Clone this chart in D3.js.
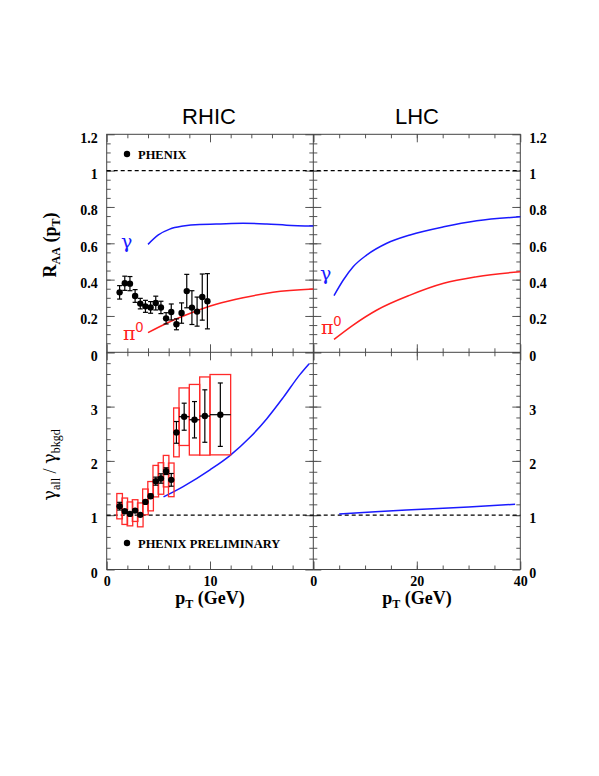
<!DOCTYPE html>
<html>
<head>
<meta charset="utf-8">
<script src="https://cdn.jsdelivr.net/npm/d3@7"></script>
<style>
  body { margin: 0; background: white; }
  .tick text { font-family: "Liberation Serif", serif; font-weight: bold; font-size: 14px; fill: #000; }
  .tick line { stroke: #555; }
</style>
</head>
<body>
<div id="container"></div>
<script>
// PHENIX R_AA points (RHIC, top left)
var rhicPt = [1.25, 1.75, 2.25, 2.75, 3.25, 3.75, 4.25, 4.75, 5.25, 5.75, 6.25, 6.75, 7.25, 7.75, 8.25, 8.75, 9.25, 9.75];
var rhicRaa = [0.330, 0.380, 0.378, 0.310, 0.268, 0.253, 0.247, 0.271, 0.247, 0.187, 0.222, 0.154, 0.216, 0.337, 0.246, 0.224, 0.304, 0.281];
var rhicRaaErr = [0.037, 0.039, 0.039, 0.035, 0.029, 0.033, 0.032, 0.038, 0.034, 0.031, 0.044, 0.030, 0.056, 0.092, 0.093, 0.080, 0.127, 0.152];

// model curves, R_AA
var rhicGammaPt = [4.0, 5.0, 6.1, 7.4, 9.0, 10.6, 13.2, 15.5, 17.4, 20];
var rhicGammaRaa = [0.594, 0.646, 0.678, 0.695, 0.704, 0.706, 0.710, 0.706, 0.700, 0.695];
var rhicPi0Pt = [4.0, 5.8, 8.1, 10.6, 13.2, 16.1, 20];
var rhicPi0Raa = [0.108, 0.160, 0.215, 0.264, 0.300, 0.330, 0.348];
var lhcGammaPt = [4.0, 5.8, 7.7, 10.3, 14.2, 18.7, 25.2, 31.6, 40];
var lhcGammaRaa = [0.312, 0.398, 0.471, 0.535, 0.600, 0.646, 0.691, 0.724, 0.746];
var lhcPi0Pt = [4.0, 7.7, 12.3, 18.7, 25.2, 31.6, 40];
var lhcPi0Raa = [0.071, 0.150, 0.233, 0.315, 0.380, 0.416, 0.444];

// PHENIX preliminary gamma_all / gamma_bkgd (bottom left)
var prelimPt = [1.25, 1.75, 2.25, 2.75, 3.25, 3.75, 4.25, 4.75, 5.25, 5.75, 6.25, 6.75, 7.5, 8.5, 9.5, 11];
var prelimRatio = [1.166, 1.073, 1.024, 1.085, 1.006, 1.245, 1.350, 1.627, 1.676, 1.811, 1.651, 2.525, 2.814, 2.758, 2.826, 2.851];
var prelimStat = [0.071, 0.03, 0.02, 0.03, 0.02, 0.03, 0.04, 0.074, 0.086, 0.062, 0.117, 0.20, 0.249, 0.335, 0.483, 0.584];
var prelimSys = [0.233, 0.243, 0.22, 0.20, 0.22, 0.237, 0.27, 0.29, 0.29, 0.29, 0.31, 0.45, 0.53, 0.65, 0.72, 0.74];
var prelimBinHalf = [0.27, 0.27, 0.27, 0.27, 0.27, 0.27, 0.27, 0.27, 0.27, 0.27, 0.27, 0.27, 0.5, 0.5, 0.5, 1.0];

// model curves, ratio
var rhicRatioPt = [5.5, 7.4, 10.0, 11.9, 13.9, 15.5, 17.1, 18.7, 19.6];
var rhicRatio = [1.338, 1.528, 1.836, 2.094, 2.439, 2.777, 3.17, 3.589, 3.79];
var lhcRatioPt = [5, 12, 20, 30, 39];
var lhcRatio = [1.024, 1.065, 1.105, 1.153, 1.202];

// tick labels
var raaLabels = [0, 0.2, 0.4, 0.6, 0.8, 1, 1.2];
var ratioLabels = [0, 1, 2, 3];
var rhicPtLabels = [0, 10];
var lhcPtLabels = [0, 20, 40];

var svgWidth = 599, svgHeight = 776;
var svg = d3.select('#container').append('svg')
  .attr('width', svgWidth).attr('height', svgHeight)
  .style('background-color', 'white');

var left = 106.7, mid = 313.3, right = 520.3;
var top0 = 134.3, midY = 352.3, bottom = 569.5;

var xL = d3.scaleLinear().domain([0, 20]).range([left, mid]);
var xR = d3.scaleLinear().domain([0, 40]).range([mid, right]);
var yT = d3.scaleLinear().domain([0, 1.2]).range([midY, top0]);
var yB = d3.scaleLinear().domain([0, 4]).range([bottom, midY]);

var fmt = function(d) { return String(+d.toFixed(1)); };

function noDomain(sel) { sel.select('.domain').remove(); }

// inward ticks on all four sides of a panel
function frameTicks(x, y, xMajor, xMinor, yMajor, yMinor) {
  var x0 = x.range()[0], x1 = x.range()[1], y0 = y.range()[0], y1 = y.range()[1];
  [[d3.axisBottom, y0], [d3.axisTop, y1]].forEach(function(a) {
    svg.append('g').attr('transform', 'translate(0,' + a[1] + ')')
      .call(a[0](x).tickValues(xMajor).tickSize(-8).tickFormat('')).call(noDomain);
    svg.append('g').attr('transform', 'translate(0,' + a[1] + ')')
      .call(a[0](x).tickValues(xMinor).tickSize(-4).tickFormat('')).call(noDomain);
  });
  [[d3.axisLeft, x0], [d3.axisRight, x1]].forEach(function(a) {
    svg.append('g').attr('transform', 'translate(' + a[1] + ',0)')
      .call(a[0](y).tickValues(yMajor).tickSize(-8).tickFormat('')).call(noDomain);
    svg.append('g').attr('transform', 'translate(' + a[1] + ',0)')
      .call(a[0](y).tickValues(yMinor).tickSize(-4).tickFormat('')).call(noDomain);
  });
}

frameTicks(xL, yT, [0, 10, 20], d3.range(2, 20, 2), [0, 0.2, 0.4, 0.6, 0.8, 1, 1.2], d3.range(0.05, 1.2, 0.05));
frameTicks(xR, yT, [0, 20, 40], d3.range(5, 40, 5), [0, 0.2, 0.4, 0.6, 0.8, 1, 1.2], d3.range(0.05, 1.2, 0.05));
frameTicks(xL, yB, [0, 10, 20], d3.range(2, 20, 2), [0, 1, 2, 3, 4], d3.range(0.2, 4, 0.2));
frameTicks(xR, yB, [0, 20, 40], d3.range(5, 40, 5), [0, 1, 2, 3, 4], d3.range(0.2, 4, 0.2));

// frames
svg.append('rect').attr('x', left).attr('y', top0).attr('width', right - left).attr('height', bottom - top0)
  .attr('fill', 'none').attr('stroke', '#444').attr('stroke-width', 1);
svg.append('line').attr('x1', mid).attr('x2', mid).attr('y1', top0).attr('y2', bottom).attr('stroke', '#444');
svg.append('line').attr('x1', left).attr('x2', right).attr('y1', midY).attr('y2', midY).attr('stroke', '#444');

// tick labels
svg.append('g').attr('transform', 'translate(' + left + ',0)')
  .call(d3.axisLeft(yT).tickValues(raaLabels).tickSize(0).tickPadding(9).tickFormat(fmt)).call(noDomain)
  .selectAll('text').attr('dy', '0.55em');
svg.append('g').attr('transform', 'translate(' + right + ',0)')
  .call(d3.axisRight(yT).tickValues(raaLabels).tickSize(0).tickPadding(9).tickFormat(fmt)).call(noDomain)
  .selectAll('text').attr('dy', '0.55em');
svg.append('g').attr('transform', 'translate(' + left + ',0)')
  .call(d3.axisLeft(yB).tickValues(ratioLabels).tickSize(0).tickPadding(9).tickFormat(fmt)).call(noDomain)
  .selectAll('text').attr('dy', '0.55em');
svg.append('g').attr('transform', 'translate(' + right + ',0)')
  .call(d3.axisRight(yB).tickValues(ratioLabels).tickSize(0).tickPadding(9).tickFormat(fmt)).call(noDomain)
  .selectAll('text').attr('dy', '0.55em');
svg.append('g').attr('transform', 'translate(0,' + bottom + ')')
  .call(d3.axisBottom(xL).tickValues(rhicPtLabels).tickSize(0).tickPadding(7).tickFormat(fmt)).call(noDomain);
svg.append('g').attr('transform', 'translate(0,' + bottom + ')')
  .call(d3.axisBottom(xR).tickValues(lhcPtLabels).tickSize(0).tickPadding(7).tickFormat(fmt)).call(noDomain);

// dashed unity lines
[[yT, 1], [yB, 1]].forEach(function(a) {
  svg.append('line').attr('x1', left).attr('x2', right)
    .attr('y1', a[0](a[1])).attr('y2', a[0](a[1]))
    .attr('stroke', '#000').attr('stroke-width', 1.2).attr('stroke-dasharray', '4,3');
});

function curve(x, y, xs, ys, color) {
  var line = d3.line().curve(d3.curveMonotoneX)
    .x(function(d, i) { return x(xs[i]); })
    .y(function(d) { return y(d); });
  svg.append('path').datum(ys)
    .attr('fill', 'none').attr('stroke', color).attr('stroke-width', 1.5)
    .attr('d', line);
}

curve(xL, yT, rhicGammaPt, rhicGammaRaa, '#1a1aff');
curve(xL, yT, rhicPi0Pt, rhicPi0Raa, '#ff2020');
curve(xR, yT, lhcGammaPt, lhcGammaRaa, '#1a1aff');
curve(xR, yT, lhcPi0Pt, lhcPi0Raa, '#ff2020');
curve(xL, yB, rhicRatioPt, rhicRatio, '#1a1aff');
curve(xR, yB, lhcRatioPt, lhcRatio, '#1a1aff');

// systematic boxes
prelimPt.forEach(function(p, i) {
  svg.append('rect')
    .attr('x', xL(p - prelimBinHalf[i])).attr('width', xL(p + prelimBinHalf[i]) - xL(p - prelimBinHalf[i]))
    .attr('y', yB(prelimRatio[i] + prelimSys[i])).attr('height', yB(prelimRatio[i] - prelimSys[i]) - yB(prelimRatio[i] + prelimSys[i]))
    .attr('fill', 'none').attr('stroke', '#ff2a2a').attr('stroke-width', 1.3);
});

function points(x, y, xs, ys, errs, xhalf) {
  var g = svg.append('g').attr('stroke', '#000').attr('stroke-width', 1.2);
  xs.forEach(function(p, i) {
    var cx = x(p), lo = y(ys[i] - errs[i]), hi = y(ys[i] + errs[i]);
    g.append('line').attr('x1', cx).attr('x2', cx).attr('y1', lo).attr('y2', hi);
    g.append('line').attr('x1', cx - 2.5).attr('x2', cx + 2.5).attr('y1', lo).attr('y2', lo);
    g.append('line').attr('x1', cx - 2.5).attr('x2', cx + 2.5).attr('y1', hi).attr('y2', hi);
    if (xhalf) {
      g.append('line').attr('x1', x(p - xhalf[i])).attr('x2', x(p + xhalf[i]))
        .attr('y1', y(ys[i])).attr('y2', y(ys[i]));
    }
    svg.append('circle').attr('cx', cx).attr('cy', y(ys[i])).attr('r', 3.2).attr('fill', '#000');
  });
}

points(xL, yT, rhicPt, rhicRaa, rhicRaaErr);
points(xL, yB, prelimPt, prelimRatio, prelimStat, prelimBinHalf);

// legends
svg.append('circle').attr('cx', 127).attr('cy', 154).attr('r', 3.2).attr('fill', '#000');
svg.append('text').attr('x', 138).attr('y', 158.5).text('PHENIX')
  .style('font-family', 'Liberation Serif').style('font-weight', 'bold').style('font-size', '12.5px');
svg.append('circle').attr('cx', 127).attr('cy', 543).attr('r', 3.2).attr('fill', '#000');
svg.append('text').attr('x', 138).attr('y', 547.5).text('PHENIX PRELIMINARY')
  .style('font-family', 'Liberation Serif').style('font-weight', 'bold').style('font-size', '12.5px');

// curve labels
function greek(x, y, color, base, sup) {
  var t = svg.append('text').attr('x', x).attr('y', y).attr('fill', color)
    .style('font-family', 'DejaVu Serif').style('font-size', '19px');
  t.append('tspan').text(base);
  if (sup) t.append('tspan').attr('dy', -8).style('font-family', 'Liberation Sans').style('font-size', '14px').text(sup);
}
greek(121, 248, '#1a1aff', 'γ');
greek(123, 340, '#ff2020', 'π', '0');
greek(320, 280, '#1a1aff', 'γ');
greek(321, 334, '#ff2020', 'π', '0');

// panel titles
[['RHIC', 209], ['LHC', 417]].forEach(function(a) {
  svg.append('text').attr('x', a[1]).attr('y', 124).attr('text-anchor', 'middle').text(a[0])
    .style('font-family', 'Liberation Sans').style('font-size', '22px');
});

// axis titles
function ptTitle(x) {
  var t = svg.append('text').attr('x', x).attr('y', 604).attr('text-anchor', 'middle')
    .style('font-family', 'Liberation Serif').style('font-weight', 'bold').style('font-size', '18px');
  t.append('tspan').text('p');
  t.append('tspan').attr('dy', 4).style('font-size', '12px').text('T');
  t.append('tspan').attr('dy', -4).text(' (GeV)');
}
ptTitle(210);
ptTitle(417);

var raaTitle = svg.append('text').attr('transform', 'translate(56,245) rotate(-90)').attr('text-anchor', 'middle')
  .style('font-family', 'Liberation Serif').style('font-weight', 'bold').style('font-size', '18px');
raaTitle.append('tspan').text('R');
raaTitle.append('tspan').attr('dy', 4).style('font-size', '12px').text('AA');
raaTitle.append('tspan').attr('dy', -4).text(' (p');
raaTitle.append('tspan').attr('dy', 4).style('font-size', '12px').text('T');
raaTitle.append('tspan').attr('dy', -4).text(')');

var ratioTitle = svg.append('text').attr('transform', 'translate(56,465) rotate(-90)').attr('text-anchor', 'middle')
  .style('font-family', 'Liberation Serif').style('font-size', '18px');
ratioTitle.append('tspan').style('font-family', 'DejaVu Serif').text('γ');
ratioTitle.append('tspan').attr('dy', 4).style('font-size', '12px').text('all');
ratioTitle.append('tspan').attr('dy', -4).text(' / ');
ratioTitle.append('tspan').style('font-family', 'DejaVu Serif').text('γ');
ratioTitle.append('tspan').attr('dy', 4).style('font-size', '12px').text('bkgd');
</script>
</body>
</html>
